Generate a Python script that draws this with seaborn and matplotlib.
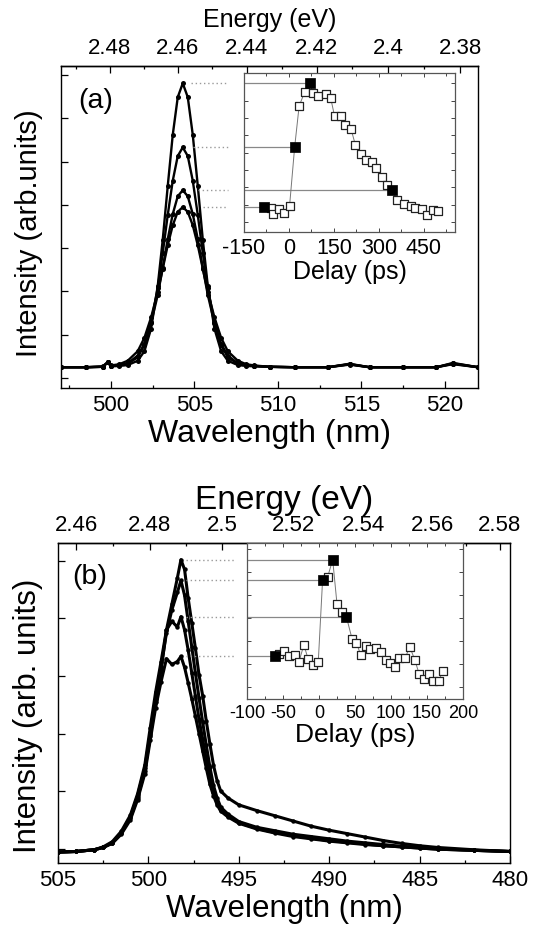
import numpy as np
import pandas as pd
import matplotlib
matplotlib.use("Agg")
import matplotlib.pyplot as plt
from matplotlib.ticker import MultipleLocator, FixedLocator, FuncFormatter, NullFormatter
import seaborn as sns

# ---------------- data: panel (a) ----------------
wl_a = [497.0, 498.5, 499.5, 499.8, 500.0, 500.5, 501.0, 501.6, 502.0, 502.4, 502.8, 503.1,
        503.4, 503.7, 504.0, 504.3, 504.6, 504.9, 505.2, 505.5, 505.8, 506.2, 506.6, 507.0,
        507.6, 508.1, 508.6, 509.5, 511.0, 513.0, 514.3, 515.5, 517.5, 519.5, 520.5, 522.0]
spec_a1 = [0.25, 0.25, 0.26, 0.36, 0.27, 0.28, 0.30, 0.40, 0.62, 1.14, 2.13, 3.20,
           4.44, 5.62, 6.49, 6.81, 6.49, 5.62, 4.44, 3.20, 2.13, 1.14, 0.62, 0.40,
           0.30, 0.28, 0.27, 0.26, 0.25, 0.25, 0.33, 0.25, 0.25, 0.25, 0.35, 0.25]
spec_a2 = [0.25, 0.25, 0.26, 0.36, 0.28, 0.30, 0.33, 0.48, 0.76, 1.29, 2.08, 2.89,
           3.77, 4.56, 5.13, 5.33, 5.13, 4.56, 3.77, 2.89, 2.08, 1.29, 0.76, 0.48,
           0.33, 0.30, 0.28, 0.26, 0.25, 0.25, 0.32, 0.25, 0.25, 0.25, 0.34, 0.25]
spec_a3 = [0.25, 0.25, 0.26, 0.36, 0.28, 0.30, 0.34, 0.52, 0.79, 1.27, 1.92, 2.55,
           3.21, 3.79, 4.20, 4.34, 4.20, 3.79, 3.21, 2.55, 1.92, 1.27, 0.79, 0.52,
           0.34, 0.30, 0.28, 0.26, 0.25, 0.25, 0.32, 0.25, 0.25, 0.25, 0.33, 0.25]
spec_a4 = [0.25, 0.25, 0.27, 0.37, 0.29, 0.32, 0.40, 0.62, 0.93, 1.40, 1.99, 2.53,
           3.07, 3.53, 3.84, 3.95, 3.84, 3.53, 3.07, 2.53, 1.99, 1.40, 0.93, 0.62,
           0.40, 0.32, 0.29, 0.26, 0.25, 0.25, 0.31, 0.25, 0.25, 0.25, 0.32, 0.25]

delay_a_open = [-60, -52, -32, -15, 2, 34, 53, 80, 97, 122, 139, 152, 173, 186, 207, 222,
                239, 258, 277, 290, 309, 326, 360, 383, 406, 420, 445, 462, 479, 496]
int_a_open = [3.92, 3.79, 3.90, 3.80, 3.97, 6.28, 6.61, 6.57, 6.52, 6.55, 6.47, 6.05, 6.05,
              5.84, 5.75, 5.37, 5.17, 5.03, 4.98, 4.84, 4.65, 4.46, 4.11, 4.02, 3.96, 3.92,
              3.90, 3.76, 3.88, 3.86]
delay_a_fill = [-83, 19, 70, 345]
int_a_fill = [3.95, 5.33, 6.81, 4.34]

# ---------------- data: panel (b) ----------------
wl_b = [505.0, 504.0, 503.0, 502.5, 502.0, 501.5, 501.0, 500.6, 500.2, 499.9, 499.6, 499.3,
        499.0, 498.7, 498.4, 498.2, 498.0, 497.8, 497.6, 497.4, 497.2, 497.0, 496.8, 496.6,
        496.4, 496.2, 496.0, 495.6, 495.0, 494.0, 493.0, 492.0, 491.0, 490.0, 489.0, 488.0,
        487.0, 486.0, 485.0, 484.0, 482.0, 480.0]
spec_b1 = [-0.06, -0.05, -0.02, 0.03, 0.12, 0.30, 0.58, 0.95, 1.45, 2.10, 2.72, 3.25,
           3.80, 4.25, 4.70, 5.02, 4.85, 4.35, 3.92, 3.48, 3.02, 2.66, 2.22, 1.82,
           1.45, 1.18, 1.00, 0.88, 0.76, 0.66, 0.57, 0.48, 0.39, 0.32, 0.26, 0.20,
           0.14, 0.09, 0.05, 0.02, -0.02, -0.05]
spec_b2 = [-0.06, -0.05, -0.02, 0.02, 0.10, 0.27, 0.55, 0.92, 1.40, 2.00, 2.60, 3.15,
           3.75, 4.15, 4.45, 4.66, 4.40, 3.95, 3.50, 3.05, 2.62, 2.20, 1.80, 1.42,
           1.10, 0.88, 0.72, 0.60, 0.47, 0.37, 0.31, 0.25, 0.21, 0.17, 0.13, 0.10,
           0.07, 0.04, 0.02, 0.00, -0.03, -0.05]
spec_b3 = [-0.06, -0.05, -0.02, 0.02, 0.10, 0.27, 0.53, 0.88, 1.35, 1.95, 2.55, 3.10,
           3.80, 3.95, 3.85, 4.03, 3.80, 3.45, 3.05, 2.65, 2.25, 1.90, 1.55, 1.22,
           0.98, 0.80, 0.68, 0.57, 0.45, 0.35, 0.28, 0.23, 0.18, 0.14, 0.11, 0.08,
           0.05, 0.03, 0.01, -0.01, -0.03, -0.05]
spec_b4 = [-0.06, -0.05, -0.02, 0.02, 0.09, 0.25, 0.50, 0.85, 1.30, 1.88, 2.45, 2.90,
           3.30, 3.20, 3.25, 3.34, 3.15, 2.88, 2.60, 2.30, 2.00, 1.70, 1.40, 1.12,
           0.92, 0.76, 0.65, 0.55, 0.44, 0.34, 0.27, 0.21, 0.17, 0.13, 0.10, 0.07,
           0.05, 0.03, 0.01, -0.01, -0.03, -0.05]

delay_b_open = [-55, -48, -41, -34, -28, -21, -15, -8, -1, 12, 25, 32, 46, 52, 58, 65, 71,
                79, 86, 93, 99, 106, 111, 120, 126, 133, 139, 146, 153, 159, 166, 172]
int_b_open = [3.39, 3.44, 3.35, 3.36, 3.24, 3.54, 3.29, 3.19, 3.25, 4.72, 4.25, 4.12, 3.64,
              3.58, 3.36, 3.52, 3.47, 3.48, 3.41, 3.28, 3.22, 3.16, 3.32, 3.32, 3.51, 3.28,
              3.04, 2.94, 3.04, 2.91, 2.91, 3.09]
delay_b_fill = [-61, 5, 19, 38]
int_b_fill = [3.34, 4.67, 5.02, 4.03]

energy_ticks_a = [2.38, 2.40, 2.42, 2.44, 2.46, 2.48]
energy_ticks_b = [2.46, 2.48, 2.50, 2.52, 2.54, 2.56, 2.58]

# ---------------- style ----------------
sns.set_theme(style="ticks")
plt.rcParams['font.family'] = ['Liberation Sans', 'DejaVu Sans']
plt.rcParams['axes.linewidth'] = 1.0
plt.rcParams['axes.edgecolor'] = 'black'
plt.rcParams['axes.unicode_minus'] = False
plt.rcParams['text.color'] = 'black'
plt.rcParams['axes.labelcolor'] = 'black'
plt.rcParams['xtick.color'] = 'black'
plt.rcParams['ytick.color'] = 'black'
plt.rcParams['xtick.labelcolor'] = 'black'
plt.rcParams['ytick.labelcolor'] = 'black'

HC = 1239.84


def nm2ev(x):
    x = np.asarray(x, dtype=float)
    with np.errstate(divide='ignore'):
        return HC / x


fig = plt.figure(figsize=(5.38, 9.30), dpi=100)

efmt = FuncFormatter(lambda v, p: f"{v:g}")


def style_main(ax, xmaj, xmin, ymaj, tick_fs):
    ax.xaxis.set_major_locator(MultipleLocator(xmaj))
    ax.xaxis.set_minor_locator(MultipleLocator(xmin))
    ax.yaxis.set_major_locator(MultipleLocator(ymaj))
    ax.yaxis.set_major_formatter(NullFormatter())
    ax.tick_params(which='both', direction='in', top=False, right=False,
                   labelsize=tick_fs, pad=5, width=0.9, color='black', labelcolor='black')
    ax.tick_params(which='major', length=5)
    ax.tick_params(which='minor', length=2.5)
    for s in ax.spines.values():
        s.set_color('black')
        s.set_linewidth(1.0)


def draw_spectra(ax, wl, specs, lw, ms):
    for sp in specs:
        df = pd.DataFrame({'wl': wl, 'I': sp})
        sns.lineplot(data=df, x='wl', y='I', ax=ax, color='black', lw=lw, marker='o',
                     markersize=ms, markeredgewidth=0, sort=False, estimator=None)


def draw_inset(ax, d_open, i_open, d_fill, i_fill, s_open, s_fill):
    df_all = pd.concat([pd.DataFrame({'d': d_open, 'I': i_open}),
                        pd.DataFrame({'d': d_fill, 'I': i_fill})]).sort_values('d')
    sns.lineplot(data=df_all, x='d', y='I', ax=ax, color='#777777', lw=0.7,
                 sort=False, estimator=None)
    xl = ax.get_xlim()[0]
    ax.hlines(i_fill, xl, d_fill, color='#888888', lw=0.9, zorder=1)
    sns.scatterplot(x=d_open, y=i_open, ax=ax, marker='s', s=s_open, color='white',
                    edgecolor='#222222', linewidth=0.9, zorder=3)
    sns.scatterplot(x=d_fill, y=i_fill, ax=ax, marker='s', s=s_fill, color='black',
                    edgecolor='black', linewidth=0.5, zorder=4)


# ================= panel (a) =================
ax_a = fig.add_axes([61 / 538, 1 - 388 / 930, 417 / 538, 322 / 930])
draw_spectra(ax_a, wl_a, [spec_a4, spec_a3, spec_a2, spec_a1], lw=1.7, ms=3.6)
ax_a.set_xlim(497, 522)
ax_a.set_ylim(-0.23, 7.21)
ax_a.hlines(int_a_fill[2], 504.8, 507.0, color='#999999', lw=1.0, linestyles=(0, (1, 2)))
ax_a.hlines(int_a_fill[1], 504.9, 507.0, color='#999999', lw=1.0, linestyles=(0, (1, 2)))
ax_a.hlines(int_a_fill[3], 505.2, 507.0, color='#999999', lw=1.0, linestyles=(0, (1, 2)))
ax_a.hlines(int_a_fill[0], 505.5, 507.0, color='#999999', lw=1.0, linestyles=(0, (1, 2)))
style_main(ax_a, 5, 2.5, 1, 16)
ax_a.set_xlabel('Wavelength (nm)', fontsize=23, labelpad=2, color='black')
ax_a.set_ylabel('Intensity (arb.units)', fontsize=21, color='black')
ax_a.yaxis.set_label_coords(-0.042, 0.48)
ax_a.text(0.084, 0.89, '(a)', transform=ax_a.transAxes, fontsize=20.5,
          ha='center', va='center', color='black')

sec_a = ax_a.secondary_xaxis('top', functions=(nm2ev, nm2ev))
sec_a.xaxis.set_major_locator(FixedLocator(energy_ticks_a))
sec_a.xaxis.set_minor_locator(MultipleLocator(0.01))
sec_a.xaxis.set_major_formatter(efmt)
sec_a.tick_params(which='both', direction='in', labelsize=16, pad=5, width=0.9,
                  color='black', labelcolor='black')
sec_a.tick_params(which='major', length=5)
sec_a.tick_params(which='minor', length=2.5)
sec_a.set_xlabel('Energy (eV)', fontsize=18, labelpad=8, color='black')

ins_a = fig.add_axes([244 / 538, 1 - 232 / 930, 211 / 538, 159 / 930])
ins_a.set_xlim(-150, 554)
ins_a.set_ylim(3.37, 7.04)
draw_inset(ins_a, delay_a_open, int_a_open, delay_a_fill, int_a_fill, 30, 62)
ins_a.xaxis.set_major_locator(MultipleLocator(150))
ins_a.xaxis.set_minor_locator(MultipleLocator(75))
ins_a.yaxis.set_major_locator(MultipleLocator(0.4))
ins_a.yaxis.set_major_formatter(NullFormatter())
ins_a.tick_params(which='both', direction='in', top=True, right=True, labelsize=15.5,
                  pad=4, width=0.7, color='#444444', labelcolor='black')
ins_a.tick_params(which='major', length=3)
ins_a.tick_params(which='minor', length=2)
for s in ins_a.spines.values():
    s.set_color('#555555')
    s.set_linewidth(0.9)
ins_a.set_xlabel('Delay (ps)', fontsize=18, labelpad=1, color='black')
ins_a.set_ylabel('')

# ================= panel (b) =================
ax_b = fig.add_axes([58 / 538, 1 - 863 / 930, 452 / 538, 320 / 930])
draw_spectra(ax_b, wl_b, [spec_b4, spec_b3, spec_b2, spec_b1], lw=2.2, ms=3.2)
ax_b.set_xlim(505, 480)
ax_b.set_ylim(-0.25, 5.31)
for k in range(4):
    ax_b.hlines(int_b_fill[k], 497.9, 495.2, color='#999999', lw=1.0, linestyles=(0, (1, 2)))
style_main(ax_b, 5, 2.5, 1, 16)
ax_b.set_xlabel('Wavelength (nm)', fontsize=22.5, labelpad=2, color='black')
ax_b.set_ylabel('Intensity (arb. units)', fontsize=22.5, color='black')
ax_b.yaxis.set_label_coords(-0.034, 0.46)
ax_b.text(0.069, 0.894, '(b)', transform=ax_b.transAxes, fontsize=20.5,
          ha='center', va='center', color='black')

sec_b = ax_b.secondary_xaxis('top', functions=(nm2ev, nm2ev))
sec_b.xaxis.set_major_locator(FixedLocator(energy_ticks_b))
sec_b.xaxis.set_minor_locator(MultipleLocator(0.01))
sec_b.xaxis.set_major_formatter(efmt)
sec_b.tick_params(which='both', direction='in', labelsize=16, pad=5, width=0.9,
                  color='black', labelcolor='black')
sec_b.tick_params(which='major', length=5)
sec_b.tick_params(which='minor', length=2.5)
sec_b.set_xlabel('Energy (eV)', fontsize=24, labelpad=4, color='black')

ins_b = fig.add_axes([247 / 538, 1 - 699 / 930, 216 / 538, 156 / 930])
ins_b.set_xlim(-100, 200)
ins_b.set_ylim(2.60, 5.31)
draw_inset(ins_b, delay_b_open, int_b_open, delay_b_fill, int_b_fill, 30, 48)
ins_b.xaxis.set_major_locator(MultipleLocator(50))
ins_b.xaxis.set_minor_locator(MultipleLocator(25))
ins_b.yaxis.set_major_locator(MultipleLocator(0.4))
ins_b.yaxis.set_major_formatter(NullFormatter())
ins_b.tick_params(which='both', direction='in', top=True, right=True, labelsize=13,
                  pad=4, width=0.7, color='#444444', labelcolor='black')
ins_b.tick_params(which='major', length=3)
ins_b.tick_params(which='minor', length=2)
for s in ins_b.spines.values():
    s.set_color('#555555')
    s.set_linewidth(0.9)
ins_b.set_xlabel('Delay (ps)', fontsize=19, labelpad=1, color='black')
ins_b.set_ylabel('')

fig.savefig('out.png', dpi=100, facecolor='white')
